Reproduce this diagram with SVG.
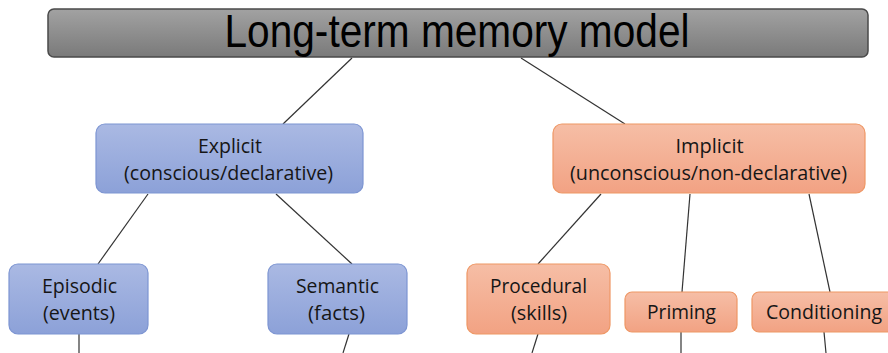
<svg xmlns="http://www.w3.org/2000/svg" width="888" height="353" viewBox="0 0 888 353">
  <defs>
    <linearGradient id="gradTitle" x1="0" y1="0" x2="0" y2="1">
      <stop offset="0" stop-color="#a2a2a2"/>
      <stop offset="1" stop-color="#7a7a7a"/>
    </linearGradient>
    <linearGradient id="gradBlue" x1="0" y1="0" x2="0" y2="1">
      <stop offset="0" stop-color="#aab9e3"/>
      <stop offset="1" stop-color="#8ca1d8"/>
    </linearGradient>
    <linearGradient id="gradOrange" x1="0" y1="0" x2="0" y2="1">
      <stop offset="0" stop-color="#f6bea6"/>
      <stop offset="1" stop-color="#f2a283"/>
    </linearGradient>
  </defs>
  <style>
    .edge { stroke: #333333; stroke-width: 1.2; fill: none; }
    .title-box { fill: url(#gradTitle); stroke: #4a4a4a; stroke-width: 1.5; }
    .blue { fill: url(#gradBlue); stroke: #7d95d2; stroke-width: 1.2; }
    .orange { fill: url(#gradOrange); stroke: #ee9765; stroke-width: 1.2; }
    .title { font-family: "Liberation Sans", Arial, sans-serif; font-size: 47px; fill: #000000; text-anchor: middle; }
    .label { font-family: "Open Sans", "Liberation Sans", sans-serif; font-size: 20px; fill: #161616; text-anchor: middle; }
  </style>

  <!-- connectors -->
  <g id="connectors">
    <line class="edge" x1="352" y1="58" x2="283" y2="124"/>
    <line class="edge" x1="521" y1="58" x2="625" y2="124"/>
    <line class="edge" x1="148" y1="194" x2="98" y2="264"/>
    <line class="edge" x1="276" y1="194" x2="352" y2="264"/>
    <line class="edge" x1="601" y1="194" x2="538" y2="264"/>
    <line class="edge" x1="690" y1="194" x2="682" y2="292"/>
    <line class="edge" x1="809" y1="194" x2="830" y2="292"/>
    <line class="edge" x1="79" y1="334" x2="79" y2="353"/>
    <line class="edge" x1="349" y1="334" x2="343" y2="353"/>
    <line class="edge" x1="538" y1="334" x2="532" y2="353"/>
    <line class="edge" x1="681" y1="332" x2="681" y2="353"/>
    <line class="edge" x1="824" y1="332" x2="826" y2="353"/>
  </g>

  <g id="title">
    <rect class="title-box" x="48" y="9" width="820" height="48" rx="6"/>
    <text class="title" x="457" y="47" textLength="465" lengthAdjust="spacingAndGlyphs">Long-term memory model</text>
  </g>

  <g id="explicit">
    <rect class="blue" x="96" y="124" width="267" height="69" rx="9"/>
    <text class="label" x="230" y="153" textLength="64" lengthAdjust="spacingAndGlyphs">Explicit</text>
    <text class="label" x="228.5" y="180" textLength="209" lengthAdjust="spacingAndGlyphs">(conscious/declarative)</text>
  </g>

  <g id="implicit">
    <rect class="orange" x="553" y="124" width="312" height="69" rx="9"/>
    <text class="label" x="709.5" y="153">Implicit</text>
    <text class="label" x="708.5" y="180" textLength="277" lengthAdjust="spacingAndGlyphs">(unconscious/non-declarative)</text>
  </g>

  <g id="episodic">
    <rect class="blue" x="9" y="264" width="139" height="70" rx="9"/>
    <text class="label" x="79.5" y="293" textLength="75" lengthAdjust="spacingAndGlyphs">Episodic</text>
    <text class="label" x="79" y="320" textLength="72" lengthAdjust="spacingAndGlyphs">(events)</text>
  </g>

  <g id="semantic">
    <rect class="blue" x="268" y="264" width="139" height="70" rx="9"/>
    <text class="label" x="337.5" y="293" textLength="83" lengthAdjust="spacingAndGlyphs">Semantic</text>
    <text class="label" x="336.5" y="320" textLength="57" lengthAdjust="spacingAndGlyphs">(facts)</text>
  </g>

  <g id="procedural">
    <rect class="orange" x="467" y="264" width="143" height="70" rx="9"/>
    <text class="label" x="538.5" y="293" textLength="97" lengthAdjust="spacingAndGlyphs">Procedural</text>
    <text class="label" x="539" y="320" textLength="56" lengthAdjust="spacingAndGlyphs">(skills)</text>
  </g>

  <g id="priming">
    <rect class="orange" x="625" y="292" width="112" height="40" rx="7"/>
    <text class="label" x="681.5" y="319" textLength="69" lengthAdjust="spacingAndGlyphs">Priming</text>
  </g>

  <g id="conditioning">
    <rect class="orange" x="752" y="292" width="144" height="40" rx="7"/>
    <text class="label" x="824" y="319" textLength="116" lengthAdjust="spacingAndGlyphs">Conditioning</text>
  </g>
</svg>
